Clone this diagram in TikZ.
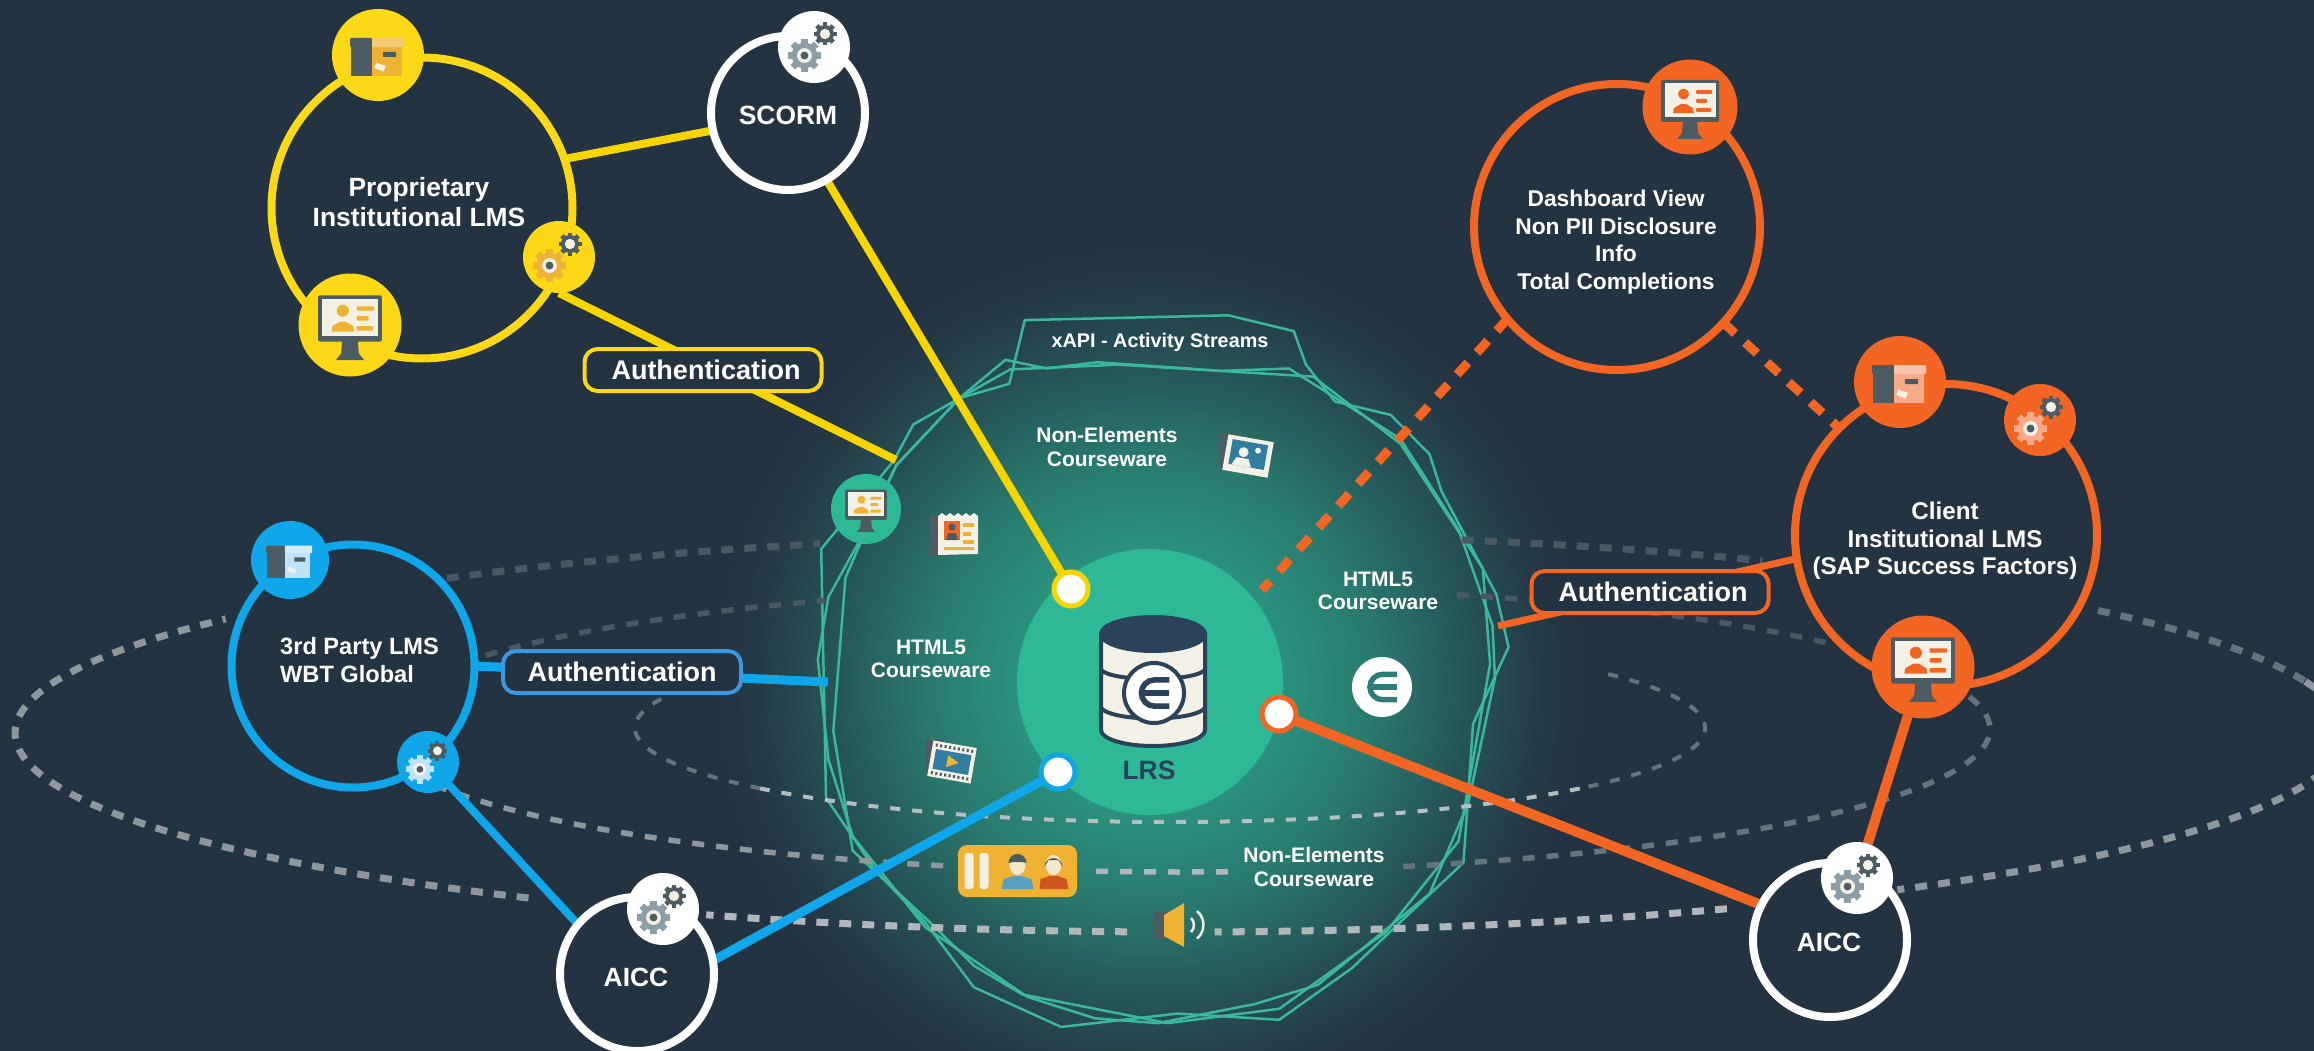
\documentclass[tikz,border=0pt]{standalone}
\usepackage{fontspec}
\setmainfont{Liberation Sans}
\usetikzlibrary{calc}
\definecolor{bgc}{HTML}{243342}
\definecolor{yel}{HTML}{F6D500}
\definecolor{yelb}{HTML}{FDD816}
\definecolor{gold}{HTML}{F0B232}
\definecolor{blu}{HTML}{0FA6EA}
\definecolor{blub}{HTML}{3B97E0}
\definecolor{blul}{HTML}{BFE3F8}
\definecolor{org}{HTML}{F26522}
\definecolor{orgl}{HTML}{F8A98A}
\definecolor{teal}{HTML}{2DB896}
\definecolor{tline}{HTML}{3AB89B}
\definecolor{slate}{HTML}{4D5B62}
\definecolor{cream}{HTML}{F3F1E6}
\definecolor{gry}{HTML}{8C9EA5}
\definecolor{navy}{HTML}{2B435A}
\definecolor{dashb}{HTML}{8F979D}
\definecolor{dashm}{HTML}{66727C}
\definecolor{dashd}{HTML}{4A5864}
\definecolor{dashl}{HTML}{B4C0C0}
\pgfdeclarelayer{bglayer}
\pgfdeclarelayer{connlayer}
\pgfsetlayers{bglayer,connlayer,main}
\tikzset{
 x=1pt,y=-1pt,
 ring/.style={circle,draw=#1,line width=8pt,inner sep=0pt,outer sep=0pt,fill=bgc},
 badge/.style={circle,fill=#1,inner sep=0pt,outer sep=0pt},
 dotn/.style={circle,draw=#1,fill=white,line width=5pt,inner sep=0pt,outer sep=0pt,minimum size=34pt},
 authbox/.style={draw=#1,line width=4pt,fill=bgc,rounded corners=13pt,inner sep=0pt,outer sep=0pt,text=white,font=\bfseries\fontsize{27}{32}\selectfont},
 wire/.style={draw=#1,line width=8pt},
 dashwire/.style={draw=org,line width=9pt,dash pattern=on 16pt off 13.5pt},
 poly/.style={draw=tline,line width=2.5pt,line join=miter},
 bigt/.style={text=white,align=center,inner sep=0pt,font=\bfseries\fontsize{26.4}{29.5}\selectfont},
 midt/.style={text=white,align=center,inner sep=0pt,font=\bfseries\fontsize{22.8}{27.7}\selectfont},
 smlt/.style={text=white,align=center,inner sep=0pt,font=\bfseries\fontsize{21}{23.5}\selectfont},
 outerd/.style={draw=#1,line width=7pt,dash pattern=on 12pt off 11pt},
 middled/.style={draw=#1,line width=5.5pt,dash pattern=on 12pt off 12pt},
 innerd/.style={draw=#1,line width=4pt,dash pattern=on 10pt off 12pt},
}
\newcommand\ellarc[7]{\draw[#7] plot[domain=#5:#6,samples=90] ({#1+#3*cos(\x)},{#2+#4*sin(\x)});}
\newcommand\singlegear[5]{% x y r col hole
 \begin{scope}[shift={(#1,#2)}]
 \foreach \a in {0,45,...,315}{\fill[#4,rotate=\a] (-.2*#3,-1*#3) rectangle (.2*#3,0);}
 \fill[#4] (0,0) circle[radius=.78*#3];
 \fill[cream] (0,0) circle[radius=.45*#3];
 \fill[#5] (0,0) circle[radius=.24*#3];
 \end{scope}}
\newcommand\icoGear[4]{% x y scale bigcol
 \begin{scope}[shift={(#1,#2)},scale=#3]
 \singlegear{-9.5}{8.5}{16.5}{#4}{slate}
 \singlegear{11}{-13}{11.5}{slate}{cream}
 \end{scope}}
\newcommand\icoMon[4]{% x y scale accent
 \begin{scope}[shift={(#1,#2)},scale=#3]
 \fill[slate] (-7,12) -- (7,12) -- (8,26) -- (13,32) -- (-13,32) -- (-8,26) -- cycle;
 \fill[slate,rounded corners=1.5pt] (-29,-27) rectangle (29,15);
 \fill[cream] (-25.5,-23.5) rectangle (25.5,10);
 \fill[#4] (-6.5,-13) circle[radius=5.5];
 \fill[#4] (-17,6) -- (-16,1) -- (-9,-3) -- (-4,-3) -- (3,1) -- (4,6) -- cycle;
 \fill[#4,rounded corners=1pt] (6,-17) rectangle (22,-13);
 \fill[#4,rounded corners=1pt] (6,-8) rectangle (17,-4);
 \fill[#4,rounded corners=1pt] (6,1) rectangle (21,5);
 \end{scope}}
\newcommand\icoBox[4]{% x y scale light
 \begin{scope}[shift={(#1,#2)},scale=#3]
 \fill[slate] (-27,-10) rectangle (-6,21);
 \fill[#4] (-6,-10) rectangle (24,21);
 \fill[slate,rounded corners=1pt] (-28,-17) rectangle (-6,-8);
 \fill[#4!70!white,rounded corners=1pt] (-6,-17) rectangle (26,-8);
 \fill[slate,rounded corners=.5pt] (5,-3) rectangle (18,2);
 \fill[cream,rotate around={-20:(2,12)}] (-3,9) rectangle (7,15);
 \end{scope}}
\newcommand\icoE[4]{% x y r col
 \begin{scope}[shift={(#1,#2)}]
 \draw[#4,line width=.2*#3 pt] (.55*#3,-.47*#3) -- (.02*#3,-.47*#3) arc[start angle=270,end angle=90,radius=.47*#3] -- (.55*#3,.47*#3);
 \draw[#4,line width=.2*#3 pt] (-.45*#3,0) -- (.55*#3,0);
 \end{scope}}
\begin{document}
\begin{tikzpicture}
\useasboundingbox (0,0) rectangle (2314,1051);
% ---- nodes
\node[ring=yelb,minimum size=301pt] (prop) at (422,208) {};
\node[ring=white,minimum size=154pt] (scorm) at (788,113) {};
\node[ring=blu,minimum size=243pt] (third) at (353,666) {};
\node[ring=white,minimum size=154pt] (aiccl) at (637,974) {};
\node[ring=white,minimum size=154pt] (aiccr) at (1830,940) {};
\node[ring=org,minimum size=286pt] (dashv) at (1617,227) {};
\node[ring=org,minimum size=302pt] (client) at (1946,535) {};
% badges
\node[badge=yelb,minimum size=92pt] (yb) at (378,55) {};
\node[badge=yelb,minimum size=103pt] (ym) at (350,325) {};
\node[badge=yelb,minimum size=72pt] (yg) at (559,257) {};
\node[badge=white,minimum size=72pt] (sg) at (814,47) {};
\node[badge=blu,minimum size=78pt] (bb) at (290,560) {};
\node[badge=blu,minimum size=62pt] (bg) at (428,762) {};
\node[badge=white,minimum size=72pt] (ag) at (663,909) {};
\node[badge=white,minimum size=72pt] (rg) at (1857,878) {};
\node[badge=org,minimum size=95pt] (om) at (1690,107) {};
\node[badge=org,minimum size=92pt] (ob) at (1900,382) {};
\node[badge=org,minimum size=72pt] (og) at (2040,420) {};
\node[badge=org,minimum size=103pt] (om2) at (1923,667) {};
\icoBox{378}{55}{1}{gold}
\icoMon{350}{325}{1.1}{gold}
\icoGear{559}{257}{1}{gold}
\icoGear{814}{47}{1}{gry}
\icoBox{290}{560}{.85}{blul}
\icoGear{428}{762}{.86}{blul}
\icoGear{663}{909}{1}{gry}
\icoGear{1857}{878}{1}{gry}
\icoMon{1690}{107}{1}{org}
\icoBox{1900}{382}{1}{orgl}
\icoGear{2040}{420}{1}{orgl}
\icoMon{1923}{667}{1.1}{org}
% LRS
\coordinate (lrsc) at (1150,682);
\node[circle,fill=teal,minimum size=266pt,inner sep=0pt] (lrs) at (lrsc) {};
\node[dotn=yel] (dy) at (1071,589) {};
\node[dotn=blu] (db) at (1058,772) {};
\node[dotn=org] (do) at (1279,714) {};
% database
\begin{scope}[shift={(1153,680)}]
 \draw[navy,line width=4pt,fill=cream] (-52,-46) -- (-52,50) arc[start angle=180,end angle=0,x radius=52,y radius=16] -- (52,-46) -- cycle;
 \draw[navy,line width=4pt,fill=navy] (0,-46) ellipse[x radius=52,y radius=17];
 \draw[navy,line width=4pt] (-52,-10) .. controls (-40,2) and (40,2) .. (52,-10);
 \draw[navy,line width=4pt] (-52,28) .. controls (-40,42) and (40,42) .. (52,28);
\end{scope}
\node[circle,fill=white,draw=navy,line width=4pt,minimum size=60pt,inner sep=0pt] (lrse) at (1154,693) {};
\icoE{1154}{693}{28}{navy}
\node[text=navy,inner sep=0pt,font=\bfseries\fontsize{26.5}{30}\selectfont] (lrst) at (1149,770) {LRS};
% free-end coordinates
\coordinate (ye) at (896,460);
\coordinate (be) at (828,682);
\coordinate (oe) at (1498,626);
\coordinate (de) at (1262,590);
% ---- background layer
\begin{pgfonlayer}{bglayer}
\fill[bgc] (0,0) rectangle (2314,1051);
\begin{scope}
\clip (0,0) rectangle (2314,1051);
\foreach \r in {440,436,...,128}{
 \pgfmathsetmacro\pp{\r<230 ? 52+(230-\r)*.2 : (\r<310 ? 28+(310-\r)*.3 : (\r<360 ? 14+(360-\r)*.28 : (\r<410 ? 3+(410-\r)*.22 : (440-\r)*.1)))}
 \fill[teal!\pp!bgc] (lrsc) circle[radius=\r];
}
\end{scope}
\begin{scope}[shift={(780,300)},x=.4847pt,y=-.4789pt]
\draw[poly] (505,42)--(925,32)--(1060,65)--(1085,135)--(1145,212)--(1260,240)--(1340,322)--(1365,400)--(1478,615)--(1503,725)--(1430,885)--(1410,1175)--(1310,1270)--(1180,1395)--(1030,1503)--(820,1490)--(580,1518)--(400,1435)--(300,1300)--(200,1195)--(95,1040)--(85,520)--(235,335)--(275,260)--(370,205)--(473,175)--cycle;
\draw[poly] (465,125)--(550,143)--(655,130)--(910,148)--(1050,143)--(1280,290)--(1400,480)--(1470,680)--(1475,790)--(1420,1050)--(1340,1240)--(1110,1430)--(980,1470)--(780,1510)--(650,1500)--(510,1455)--(300,1310)--(150,1120)--(100,960)--(78,750)--(100,620)--(160,510)--(240,345)--(370,205)--cycle;
\draw[poly] (370,205)--(475,145)--(700,135)--(1100,160)--(1280,300)--(1450,560)--(1465,760)--(1400,1130)--(1250,1320)--(1030,1480)--(800,1510)--(500,1450)--(400,1390)--(310,1300)--(150,1150)--(110,900)--(135,580)--(165,510)--(240,345)--cycle;
\end{scope}
% outer orbit
\ellarc{1180}{733}{1165}{199}{124}{215}{outerd=dashb}
\ellarc{1180}{733}{1165}{199}{231}{252}{outerd=dashd}
\ellarc{1180}{733}{1165}{199}{284}{300}{outerd=dashd}
\ellarc{1180}{733}{1165}{199}{322}{345}{outerd=dashm}
\ellarc{1180}{733}{1165}{199}{345}{412}{outerd=dashb}
\ellarc{1180}{733}{1165}{199}{92.6}{114}{outerd=dashb!70!white}
\ellarc{1180}{733}{1165}{199}{62}{88.3}{outerd=dashb!70!white}
% middle orbit
\ellarc{1180}{729}{810}{143}{107}{157}{middled=dashb}
\ellarc{1180}{729}{810}{143}{86.6}{96}{middled=dashb!70!white}
\ellarc{1180}{729}{810}{143}{347}{434}{middled=dashm}
\ellarc{1180}{729}{810}{143}{211}{244}{middled=dashd}
\ellarc{1180}{729}{810}{143}{290}{323}{middled=dashd}
% inner orbit
\ellarc{1170}{728}{535}{94}{140}{200}{innerd=dashm}
\ellarc{1170}{728}{535}{94}{40}{140}{innerd=dashl}
\ellarc{1170}{728}{535}{94}{-35}{40}{innerd=dashm}
\end{pgfonlayer}
% ---- connectors
\begin{pgfonlayer}{connlayer}
\draw[wire=yel] (prop.19) -- (scorm.193);
\draw[wire=yel] (yg.south) -- (ye);
\draw[wire=yel] (scorm.-60) -- (dy);
\draw[wire=blu,line width=9pt] (third.0) -- (be);
\draw[wire=blu] (bg) -- (aiccl.140);
\draw[wire=blu,line width=9pt] (aiccl.10) -- (db);
\draw[wire=org,line width=7pt] (client.189) -- (oe);
\draw[wire=org,line width=10pt] (do) -- (aiccr.153);
\draw[wire=org,line width=10pt] (om2) -- (rg);
\draw[dashwire] (dashv.220) -- (de);
\draw[dashwire] (dashv.-42) -- (client.135);
\end{pgfonlayer}
% ---- auth boxes
\node[authbox=yelb,minimum width=237pt,minimum height=42pt] (auy) at (703,370) {\hspace{6pt}Authentication};
\node[authbox=blub,minimum width=238pt,minimum height=42pt] (aub) at (622,672) {Authentication};
\node[authbox=org,minimum width=237pt,minimum height=42pt] (auo) at (1650,592) {\hspace{6pt}Authentication};
% ---- labels
\node[bigt] (tprop) at (419,202) {Proprietary\\Institutional LMS};
\node[bigt] (tscorm) at (788,115) {SCORM};
\node[bigt] (tal) at (636,977) {AICC};
\node[bigt] (tar) at (1829,942) {AICC};
\node[midt,align=left,anchor=west,font=\bfseries\fontsize{23.6}{27.7}\selectfont] (tthird) at (280,660) {3rd Party LMS\\WBT Global};
\node[midt] (tdash) at (1616,242) {Dashboard View\\Non PII Disclosure\\Info\\Total Completions};
\node[midt,font=\bfseries\fontsize{24.2}{27.7}\selectfont] (tclient) at (1945,541) {Client\\Institutional LMS\\(SAP Success Factors)};
\node[text=white,inner sep=0pt,font=\bfseries\fontsize{19.8}{24}\selectfont] (txapi) at (1160,342) {xAPI - Activity Streams};
\node[smlt] (tn1) at (1107,447) {Non-Elements\\Courseware};
\node[smlt] (th1) at (931,659) {HTML5\\Courseware};
\node[smlt] (th2) at (1378,591) {HTML5\\Courseware};
\node[smlt] (tn2) at (1314,867) {Non-Elements\\Courseware};
% ---- glow icons
\node[badge=teal,minimum size=70pt] (tm) at (866,509) {};
\icoMon{866}{509}{.72}{gold}
\node[circle,fill=white,minimum size=60pt,inner sep=0pt] (ec) at (1382,687) {};
\icoE{1382}{687}{27}{teal!50!navy}
% contact sheet
\begin{scope}[shift={(957,535)}]
 \fill[slate] (-27,-20) rectangle (-15,20);
 \fill[cream] (-19,-19) -- (-15,-22) -- (-11,-19) -- (-7,-22) -- (-3,-19) -- (1,-22) -- (5,-19) -- (9,-22) -- (13,-19) -- (17,-22) -- (21,-19) -- (21,19) -- (-19,20) -- cycle;
 \fill[org] (-13,-14) rectangle (3,5);
 \fill[slate] (-5,-8) circle[radius=3.5];
 \fill[slate] (-11,5) -- (-9,-2) -- (-1,-2) -- (1,5) -- cycle;
 \fill[gold] (6,-12) rectangle (17,-8);
 \fill[gold] (6,-3) rectangle (14,1);
 \fill[gold] (6,5) rectangle (17,9);
 \fill[gold] (-13,12) rectangle (17,15);
\end{scope}
% picture
\begin{scope}[shift={(1248,456)},rotate=-10]
 \fill[slate,rotate=10] (-28,-23) -- (-8,-23) -- (-8,10) -- (-28,15) -- cycle;
 \fill[cream] (-23,-18) rectangle (23,18);
 \fill[blu!45!slate] (-18,-14) rectangle (18,11);
 \fill[cream] (9,-7) circle[radius=3];
 \fill[cream] (-5,-3) circle[radius=5];
 \fill[cream] (-15,11) -- (-11,3) -- (1,3) -- (5,11) -- cycle;
\end{scope}
% film
\begin{scope}[shift={(952,762)},rotate=-10]
 \fill[slate,rotate=10] (-26,-22) -- (-8,-22) -- (-8,16) -- (-26,10) -- cycle;
 \fill[cream] (-22,-18) rectangle (22,18);
 \fill[blu!45!slate] (-18,-10) rectangle (18,10);
 \foreach \i in {-18,-13.5,...,18}{\fill[slate] (\i-1,-15.5) rectangle (\i+1,-12.5);\fill[slate] (\i-1,12.5) rectangle (\i+1,15.5);}
 \fill[gold] (-5,-6) -- (7,0) -- (-5,6) -- cycle;
\end{scope}
% people
\node[fill=gold,rounded corners=9pt,minimum width=119pt,minimum height=52pt,inner sep=0pt] (ppl) at (1017.5,871) {};
\begin{scope}[shift={(1017.5,871)}]
 \fill[cream,rounded corners=3pt] (-53,-18) rectangle (-44,18);
 \fill[cream,rounded corners=3pt] (-38,-18) rectangle (-29,18);
 \fill[gry!60!blu] (-16,18) -- (-14,8) -- (-4,5) -- (4,5) -- (14,8) -- (16,18) -- cycle;
 \fill[cream!85!gold] (0,-6) ellipse[x radius=8,y radius=10];
 \fill[slate] (-9,-8) arc[start angle=180,end angle=360,radius=9] -- (5,-9) -- (-4,-9) -- cycle;
 \fill[org!85!black] (22,18) -- (23,8) -- (32,5) -- (40,5) -- (49,8) -- (51,18) -- cycle;
 \fill[cream!85!gold] (36,-6) ellipse[x radius=8,y radius=10];
 \fill[slate] (27,-4) arc[start angle=180,end angle=360,radius=9] -- (41,-11) -- (31,-11) -- cycle;
\end{scope}
% speaker
\begin{scope}[shift={(1175,925)}]
 \fill[slate] (-22,-13) rectangle (-6,14);
 \fill[gold] (-11,-10) -- (9,-22) -- (9,22) -- (-11,11) -- cycle;
 \draw[cream,line width=2.5pt] (16,-7) arc[start angle=-45,end angle=45,radius=10];
 \draw[cream,line width=2.5pt] (22,-14) arc[start angle=-50,end angle=50,radius=18];
\end{scope}
\end{tikzpicture}
\end{document}
